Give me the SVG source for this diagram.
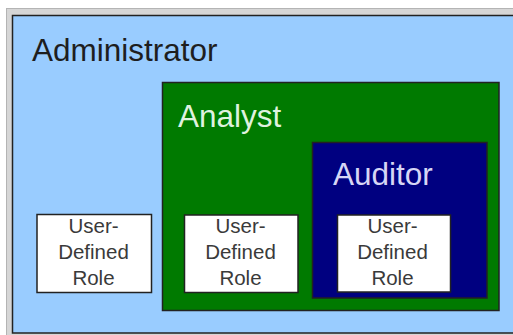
<svg xmlns="http://www.w3.org/2000/svg" width="513" height="335" viewBox="0 0 513 335">
  <style>
    .frame { stroke: #222; stroke-width: 1.5; }
    .title { font-family: "Liberation Sans", Arial, sans-serif; font-size: 31.5px; }
    .role-box { fill: #ffffff; stroke: #222; stroke-width: 1.5; }
    .role-text { font-family: "Liberation Sans", Arial, sans-serif; font-size: 20.5px; fill: #3a3a3a; text-anchor: middle; }
  </style>
  <rect x="0" y="0" width="513" height="335" fill="#ffffff"/>
  <rect x="6.5" y="8.5" width="520" height="340" fill="#d6d6d6" stroke="#b4b4b4" stroke-width="1"/>
  <g id="administrator">
    <rect class="frame" x="12.5" y="15.5" width="520" height="317.5" fill="#99ccff"/>
    <text class="title" x="32" y="61" fill="#1e1e1e">Administrator</text>
  </g>
  <g id="analyst">
    <rect class="frame" x="162.5" y="82.5" width="336.5" height="228" fill="#007a00"/>
    <text class="title" x="178" y="127" fill="#dff2df">Analyst</text>
  </g>
  <g id="auditor">
    <rect class="frame" x="312.5" y="142.5" width="174.5" height="155.5" fill="#000080"/>
    <text class="title" x="333" y="185" fill="#d6d6f5">Auditor</text>
  </g>
  <g id="role-admin">
    <rect class="role-box" x="37" y="214.5" width="114.5" height="78"/>
    <text class="role-text" x="93.5" y="233">User-</text>
    <text class="role-text" x="93.5" y="259">Defined</text>
    <text class="role-text" x="93.5" y="285">Role</text>
  </g>
  <g id="role-analyst">
    <rect class="role-box" x="184.5" y="215" width="113.5" height="77.5"/>
    <text class="role-text" x="240.5" y="233">User-</text>
    <text class="role-text" x="240.5" y="259">Defined</text>
    <text class="role-text" x="240.5" y="285">Role</text>
  </g>
  <g id="role-auditor">
    <rect class="role-box" x="337.5" y="215" width="113" height="77"/>
    <text class="role-text" x="392.5" y="233">User-</text>
    <text class="role-text" x="392.5" y="259">Defined</text>
    <text class="role-text" x="392.5" y="285">Role</text>
  </g>
  <g id="connectors"/>
</svg>
